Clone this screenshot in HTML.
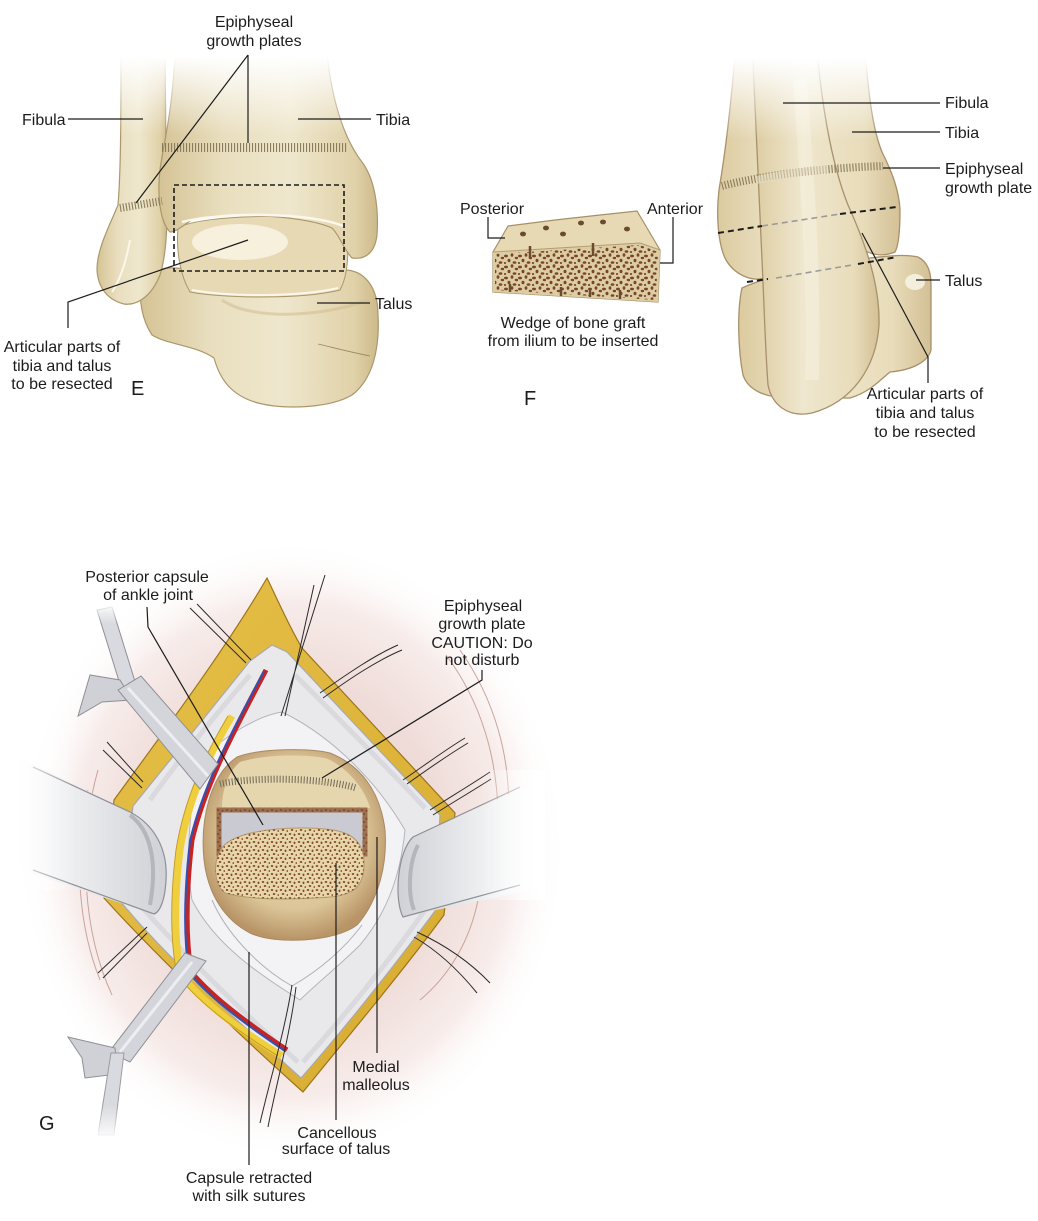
<!DOCTYPE html>
<html><head><meta charset="utf-8"><style>
html,body{margin:0;padding:0;background:#fff;}
svg{display:block;}
text{font-family:"Liberation Sans",Arial,sans-serif;font-size:16px;fill:#1c1c1c;}
.c{text-anchor:middle;}
.big{font-size:20px;}
.ld{stroke:#1c1c1c;stroke-width:1.2;fill:none;}
.su{stroke:#2a2a2a;stroke-width:1;fill:none;}
.arc{stroke:#c9a39a;stroke-width:1;fill:none;}
</style></head><body>
<svg width="1038" height="1221" viewBox="0 0 1038 1221" xmlns="http://www.w3.org/2000/svg">
<defs>
<linearGradient id="boneE" x1="0" x2="1" y1="0" y2="0">
<stop offset="0" stop-color="#d5c395"/><stop offset="0.3" stop-color="#e9dfbf"/><stop offset="0.6" stop-color="#efe7cd"/><stop offset="0.9" stop-color="#e0d1a8"/><stop offset="1" stop-color="#cdb98a"/>
</linearGradient>
<linearGradient id="boneF" x1="0" x2="1" y1="0" y2="0">
<stop offset="0" stop-color="#dccb9f"/><stop offset="0.4" stop-color="#efe7cf"/><stop offset="0.8" stop-color="#e8dcba"/><stop offset="1" stop-color="#d3c095"/>
</linearGradient>
<linearGradient id="fadeTop" x1="0" x2="0" y1="0" y2="1">
<stop offset="0" stop-color="#fff" stop-opacity="1"/><stop offset="0.25" stop-color="#fff" stop-opacity="1"/><stop offset="1" stop-color="#fff" stop-opacity="0"/>
</linearGradient>
<linearGradient id="fadeL" x1="0" x2="1" y1="0" y2="0">
<stop offset="0" stop-color="#fff" stop-opacity="1"/><stop offset="1" stop-color="#fff" stop-opacity="0"/>
</linearGradient>
<linearGradient id="fadeR" x1="0" x2="1" y1="0" y2="0">
<stop offset="0" stop-color="#fff" stop-opacity="0"/><stop offset="1" stop-color="#fff" stop-opacity="1"/>
</linearGradient>
<linearGradient id="fadeB" x1="0" x2="0" y1="0" y2="1">
<stop offset="0" stop-color="#fff" stop-opacity="0"/><stop offset="1" stop-color="#fff" stop-opacity="1"/>
</linearGradient>
<radialGradient id="halo" cx="0.5" cy="0.5" r="0.5">
<stop offset="0" stop-color="#e8ccc7"/><stop offset="0.55" stop-color="#efdcd8"/><stop offset="0.8" stop-color="#f7ecea"/><stop offset="1" stop-color="#ffffff" stop-opacity="0"/>
</radialGradient>
<linearGradient id="fat" x1="0" x2="1" y1="0" y2="1">
<stop offset="0" stop-color="#e6c04a"/><stop offset="0.5" stop-color="#dfb63c"/><stop offset="1" stop-color="#d6aa32"/>
</linearGradient>
<linearGradient id="plateL" x1="0" x2="1" y1="0" y2="0">
<stop offset="0" stop-color="#ffffff"/><stop offset="0.35" stop-color="#eeeff1"/><stop offset="1" stop-color="#cfd1d6"/>
</linearGradient>
<linearGradient id="plateR" x1="0" x2="1" y1="0" y2="0">
<stop offset="0" stop-color="#cfd1d6"/><stop offset="0.6" stop-color="#eeeff1"/><stop offset="1" stop-color="#ffffff"/>
</linearGradient>
<radialGradient id="beige" cx="0.5" cy="0.45" r="0.55">
<stop offset="0" stop-color="#e9dab4"/><stop offset="0.7" stop-color="#dcc699"/><stop offset="1" stop-color="#b89466"/>
</radialGradient>
<pattern id="canc" width="14" height="11" patternUnits="userSpaceOnUse">
<ellipse cx="2" cy="3" rx="2" ry="1.4" fill="#7a4528"/>
<ellipse cx="8" cy="2" rx="1.4" ry="1.8" fill="#7a4528"/>
<ellipse cx="12.5" cy="5" rx="1.8" ry="1.2" fill="#7a4528"/>
<ellipse cx="5" cy="7.5" rx="1.5" ry="1.7" fill="#7a4528"/>
<ellipse cx="10.5" cy="9.5" rx="1.9" ry="1.3" fill="#7a4528"/>
<ellipse cx="1" cy="10" rx="1.2" ry="1" fill="#7a4528"/>
</pattern>
<pattern id="canc2" width="9" height="8" patternUnits="userSpaceOnUse">
<ellipse cx="2" cy="2" rx="1.3" ry="1" fill="#834c2c"/>
<ellipse cx="6.5" cy="2.8" rx="1" ry="1.3" fill="#834c2c"/>
<ellipse cx="4" cy="6" rx="1.3" ry="1" fill="#834c2c"/>
<ellipse cx="8.3" cy="7" rx="0.9" ry="0.9" fill="#834c2c"/>
</pattern>
</defs>

<!-- ================= PANEL E ================= -->
<path d="M142,282 C148,268 172,264 195,272 C250,285 310,280 340,270 C365,268 378,288 378,315 C380,350 372,380 352,395 C330,408 285,410 258,403 C232,396 220,380 214,358 C195,345 168,345 152,335 C142,320 138,298 142,282 Z" fill="url(#boneE)" stroke="#ab976b" stroke-width="1.2"/>
<path d="M222,300 C250,320 320,318 368,300" fill="none" stroke="#d2c094" stroke-width="3" opacity="0.6"/>
<path d="M318,344 C335,348 350,352 370,356" fill="none" stroke="#9c8760" stroke-width="0.8"/>
<path d="M178,228 C200,214 320,212 345,226 C350,250 348,275 340,290 C300,300 220,298 190,292 C180,275 176,250 178,228 Z" fill="#e6d9b4" stroke="#ab976b" stroke-width="1"/>
<ellipse cx="240" cy="242" rx="48" ry="18" fill="#f8f3e4" opacity="0.85"/>
<path d="M192,290 C230,297 300,297 338,288" fill="none" stroke="#fbf7ec" stroke-width="2"/>
<path d="M121,40 L165,40 L166,160 C168,210 168,250 160,275 C152,295 138,306 124,304 C108,300 98,288 97,270 C97,248 110,225 118,205 C121,170 121,110 121,40 Z" fill="url(#boneE)" stroke="#ab976b" stroke-width="1.2"/>
<path d="M130,240 C126,262 120,280 112,292" fill="none" stroke="#fbf7ec" stroke-width="2"/>
<path d="M176,40 L326,40 C330,100 345,140 362,162 C374,178 379,205 377,235 C375,252 366,260 352,258 C344,250 340,236 332,228 C300,214 220,212 192,220 C182,226 176,232 170,232 C160,222 157,195 160,170 C163,145 172,120 176,40 Z" fill="url(#boneE)" stroke="#ab976b" stroke-width="1.2"/>
<path d="M182,222 C220,212 310,212 343,226" fill="none" stroke="#fbf7ec" stroke-width="2.5"/>
<rect x="80" y="30" width="300" height="105" fill="url(#fadeTop)"/>
<line x1="162" y1="147.5" x2="348" y2="147.5" stroke="#8a7c5c" stroke-width="9" stroke-dasharray="1.1 1.9"/>
<line x1="120" y1="208" x2="162" y2="201" stroke="#8a7c5c" stroke-width="8" stroke-dasharray="1.1 1.9"/>
<rect x="174" y="185" width="170" height="86" fill="none" stroke="#1c1c1c" stroke-width="1.6" stroke-dasharray="5 3"/>
<path class="ld" d="M248,55 L248,143 M248,55 L136,203"/>
<path class="ld" d="M68,119 L143,119"/>
<path class="ld" d="M298,119 L371,119"/>
<path class="ld" d="M317,303 L370,303"/>
<path class="ld" d="M248,240 L68,302 L68,328"/>
<text class="c" x="254" y="27">Epiphyseal</text>
<text class="c" x="254" y="46">growth plates</text>
<text x="22" y="125">Fibula</text>
<text x="376" y="125">Tibia</text>
<text x="375" y="309">Talus</text>
<text class="c" x="62" y="352">Articular parts of</text>
<text class="c" x="62" y="371">tibia and talus</text>
<text class="c" x="62" y="389">to be resected</text>
<text class="big" x="131" y="395">E</text>

<!-- ================= PANEL F graft ================= -->
<path d="M493,252 L508,226 L555,220 L600,215 L637,211 L660,250 L658,302 L493,292 Z" fill="#e6d9b3" stroke="#a89066" stroke-width="1.2"/>
<path d="M493,252 L640,243 L660,250 L658,302 L493,292 Z" fill="#dccda4"/>
<path d="M495,254 L640,245 L658,252 L656,300 L495,290 Z" fill="url(#canc)"/>
<path d="M493,252 L640,243 L660,250" fill="none" stroke="#b49d70" stroke-width="1"/>
<g fill="#6b4a30">
<ellipse cx="523" cy="234" rx="3" ry="2.4"/><ellipse cx="546" cy="228" rx="3" ry="2.4"/><ellipse cx="563" cy="234" rx="3" ry="2.4"/>
<ellipse cx="581" cy="223" rx="3" ry="2.4"/><ellipse cx="603" cy="222" rx="3" ry="2.4"/><ellipse cx="627" cy="229" rx="3" ry="2.4"/>
</g>
<path d="M530,246 L530,258 M593,243 L593,256 M510,292 L510,284 M561,296 L561,287 M590,297 L590,288 M620,299 L620,290" stroke="#6b4a30" stroke-width="2.5"/>
<path class="ld" d="M488,217 L488,238 L505,238"/>
<path class="ld" d="M673,217 L673,263 L660,263"/>
<text x="460" y="214">Posterior</text>
<text x="647" y="214">Anterior</text>
<text class="c" x="573" y="328">Wedge of bone graft</text>
<text class="c" x="573" y="346">from ilium to be inserted</text>
<text class="big" x="524" y="405">F</text>

<!-- ================= PANEL F bones ================= -->
<path d="M742,288 C770,275 820,265 870,258 C890,256 905,254 918,257 C928,262 931,272 931,285 L931,350 C928,362 912,370 890,372 C880,380 870,392 850,398 L790,398 C765,398 748,390 743,375 C738,350 737,310 742,288 Z" fill="url(#boneF)" stroke="#a8906a" stroke-width="1.3"/>
<ellipse cx="915" cy="282" rx="10" ry="8" fill="#faf6ea" opacity="0.8"/>
<path d="M736,40 L864,40 C869,100 873,130 882,152 C892,172 899,190 900,210 C900,230 899,245 895,252 C880,258 868,254 858,246 L850,240 L770,275 C755,285 735,275 726,260 C718,245 716,215 719,190 C724,160 731,110 736,40 Z" fill="url(#boneF)" stroke="#a8906a" stroke-width="1.3"/>
<path d="M752,40 L816,40 C822,110 832,165 848,205 C866,245 880,285 879,325 C876,368 852,402 812,413 C788,418 772,405 768,385 C765,345 764,300 762,260 C759,190 755,120 752,40 Z" fill="url(#boneF)" stroke="#a8906a" stroke-width="1.3"/>
<path d="M800,80 C805,160 815,260 812,380" fill="none" stroke="#f6f0de" stroke-width="14" opacity="0.55"/>
<rect x="700" y="30" width="240" height="110" fill="url(#fadeTop)"/>
<path d="M722,186 C760,176 820,168 883,166" fill="none" stroke="#8a7c5c" stroke-width="8" stroke-dasharray="1.1 1.9"/>
<path d="M757,180 C780,175 805,171 828,169" fill="none" stroke="#e8dfc6" stroke-width="8" opacity="0.6"/>
<path d="M718,233 L762,226" stroke="#1c1c1c" stroke-width="2" stroke-dasharray="6 4"/>
<path d="M762,226 L840,214" stroke="#9a9a9a" stroke-width="1.6" stroke-dasharray="6 4"/>
<path d="M840,214 L897,207" stroke="#1c1c1c" stroke-width="2" stroke-dasharray="6 4"/>
<path d="M747,282 L768,279" stroke="#1c1c1c" stroke-width="2" stroke-dasharray="6 4"/>
<path d="M776,278 L852,265" stroke="#9a9a9a" stroke-width="1.6" stroke-dasharray="6 4"/>
<path d="M858,264 L897,257" stroke="#1c1c1c" stroke-width="2" stroke-dasharray="6 4"/>
<path class="ld" d="M783,103 L940,103"/>
<path class="ld" d="M852,132 L940,132"/>
<path class="ld" d="M883,168 L940,168"/>
<path class="ld" d="M916,280 L940,280"/>
<path class="ld" d="M862,233 L928,357 L928,383"/>
<text x="945" y="108">Fibula</text>
<text x="945" y="138">Tibia</text>
<text x="945" y="174">Epiphyseal</text>
<text x="945" y="193">growth plate</text>
<text x="945" y="286">Talus</text>
<text class="c" x="925" y="399">Articular parts of</text>
<text class="c" x="925" y="418">tibia and talus</text>
<text class="c" x="925" y="437">to be resected</text>

<!-- ================= PANEL G ================= -->
<ellipse cx="292" cy="850" rx="275" ry="310" fill="url(#halo)"/>
<path class="arc" d="M98,770 C78,840 82,930 112,995"/>
<path class="arc" d="M88,790 C72,860 80,930 100,980"/>
<path class="arc" d="M446,655 C480,700 500,760 498,830"/>
<path class="arc" d="M460,650 C495,700 512,760 508,820"/>
<path class="arc" d="M420,1000 C450,975 470,940 478,900"/>
<!-- yellow fat diamond -->
<path d="M267,578 C280,605 290,628 302,648 L455,813 L444,915 C400,975 345,1040 303,1092 C245,1040 160,960 104,898 L114,800 C165,730 225,650 267,578 Z" fill="url(#fat)" stroke="#9c7418" stroke-width="1.2"/>
<!-- white capsule band -->
<path d="M272,645 L287,652 L440,815 L435,911 C395,965 345,1028 301,1078 C250,1032 170,962 121,902 L133,806 C170,760 215,705 250,661 Z" fill="#e9e9ec" stroke="#a8a8b2" stroke-width="1.2"/>
<!-- inner capsule -->
<path d="M282,712 C320,730 370,770 405,830 C400,880 385,915 360,945 C340,965 315,985 300,1000 C260,975 215,945 192,900 C185,860 190,800 200,760 C225,735 260,715 282,712 Z" fill="#f3f3f5" stroke="#b4b4bc" stroke-width="1"/>
<path d="M150,800 C175,765 215,715 250,675" fill="none" stroke="#d2d2d8" stroke-width="5" opacity="0.7"/>
<path d="M295,675 C335,715 385,765 425,808" fill="none" stroke="#d2d2d8" stroke-width="5" opacity="0.7"/>
<path d="M140,905 C180,950 240,1010 298,1062" fill="none" stroke="#d2d2d8" stroke-width="5" opacity="0.7"/>
<path d="M425,910 C390,960 345,1015 303,1062" fill="none" stroke="#d2d2d8" stroke-width="5" opacity="0.7"/>
<!-- beige opening -->
<path d="M237,757 C260,748 310,748 330,753 C360,765 380,790 385,830 C388,870 375,905 357,925 C335,942 275,945 250,933 C225,920 208,895 204,860 C200,820 210,775 237,757 Z" fill="url(#beige)" stroke="#a88a60" stroke-width="1"/>
<path d="M240,762 C265,754 310,754 328,759 C350,770 365,790 370,808 L222,808 C222,790 228,772 240,762 Z" fill="#e6d6ae"/>
<path d="M220,784 C250,777 320,777 356,788" fill="none" stroke="#6e6858" stroke-width="7" stroke-dasharray="1 2"/>
<rect x="219" y="810" width="146" height="44" fill="#c9cad2" stroke="#9c7050" stroke-width="5"/>
<rect x="219" y="810" width="146" height="44" fill="none" stroke="url(#canc2)" stroke-width="5"/>
<path d="M220,852 C225,836 260,828 303,828 C340,828 362,833 364,860 C365,885 355,895 330,897 C290,900 250,900 225,893 C214,885 213,862 220,852 Z" fill="#e7d6aa" stroke="#b59868" stroke-width="1"/>
<path d="M220,852 C225,836 260,828 303,828 C340,828 362,833 364,860 C365,885 355,895 330,897 C290,900 250,900 225,893 C214,885 213,862 220,852 Z" fill="url(#canc2)"/>
<path d="M212,900 C225,930 255,965 292,986 C320,970 345,948 362,925" fill="none" stroke="#b0b0b8" stroke-width="1"/>
<!-- vessels -->
<path d="M232,716 C208,756 188,800 180,850 C174,900 174,940 181,975 C205,1005 240,1030 282,1056" fill="none" stroke="#efcf3e" stroke-width="7"/>
<path d="M232,716 C208,756 188,800 180,850 C174,900 174,940 181,975 C205,1005 240,1030 282,1056" fill="none" stroke="#c49a20" stroke-width="1" transform="translate(-4,0)"/>
<path d="M266,670 C240,720 206,780 192,840 C185,900 186,940 191,972 C215,1000 250,1025 287,1050" fill="none" stroke="#c42424" stroke-width="5"/>
<path d="M266,670 C240,720 206,780 192,840 C185,900 186,940 191,972 C215,1000 250,1025 287,1050" fill="none" stroke="#3450b0" stroke-width="2" transform="translate(-2,1)"/>
<!-- sutures -->
<path class="su" d="M190,608 L246,663 M197,604 L251,660"/>
<path class="su" d="M325,575 L281,716 M314,585 L285,716"/>
<path class="su" d="M320,693 C350,672 375,655 398,645 M323,698 C352,677 378,660 402,650"/>
<path class="su" d="M403,780 C425,765 445,750 465,738 M407,784 C428,769 448,755 468,743"/>
<path class="su" d="M430,810 C452,796 472,784 490,772 M433,815 C455,801 474,790 491,779"/>
<path class="su" d="M107,742 L143,782 M103,750 L142,788"/>
<path class="su" d="M147,927 L98,973 M147,933 L103,978"/>
<path class="su" d="M292,985 C285,1030 270,1080 260,1123 M296,987 C290,1035 276,1085 268,1127"/>
<path class="su" d="M417,932 C445,945 470,962 490,983 M414,937 C440,952 460,972 477,993"/>
<!-- left plate -->
<path d="M15,755 L130,812 C155,825 168,850 166,880 C165,900 160,912 154,914 L15,868 Z" fill="url(#plateL)"/>
<path d="M33,767 L130,812 C155,825 168,850 166,880 C165,900 160,912 154,914 L33,870" fill="none" stroke="#8e9096" stroke-width="1.2"/>
<path d="M130,815 C150,830 158,860 150,905" fill="none" stroke="#b4b6bc" stroke-width="4"/>
<rect x="0" y="740" width="75" height="150" fill="url(#fadeL)"/>
<!-- right plate -->
<path d="M413,837 L540,780 L540,888 L403,917 C394,900 397,852 413,837 Z" fill="url(#plateR)"/>
<path d="M520,787 L413,837 C397,852 394,900 403,917 L520,885" fill="none" stroke="#8e9096" stroke-width="1.2"/>
<path d="M418,845 C408,865 408,895 414,910" fill="none" stroke="#b4b6bc" stroke-width="4"/>
<rect x="480" y="770" width="65" height="130" fill="url(#fadeR)"/>
<!-- upper-left retractor -->
<path d="M97,610 L112,607 L137,688 L123,694 Z" fill="#d9dadf" stroke="#8e9096" stroke-width="1"/>
<rect x="85" y="596" width="40" height="28" fill="url(#fadeTop)"/>
<path d="M78,716 L90,675 L120,680 L132,700 L102,702 Z" fill="#cfd1d7" stroke="#8e9096" stroke-width="1"/>
<path d="M118,690 L141,676 L218,764 L200,789 Z" fill="#d3d5db" stroke="#8e9096" stroke-width="1"/>
<path d="M128,688 L208,776" stroke="#eceef2" stroke-width="3"/>
<!-- lower-left retractor -->
<path d="M185,953 L206,961 L130,1062 L109,1052 Z" fill="#d3d5db" stroke="#8e9096" stroke-width="1"/>
<path d="M192,962 L120,1052" stroke="#eceef2" stroke-width="3"/>
<path d="M68,1037 L115,1048 L118,1074 L85,1078 L82,1058 Z" fill="#cfd1d7" stroke="#8e9096" stroke-width="1"/>
<path d="M111,1053 L124,1053 L114,1135 L98,1135 Z" fill="#d9dadf" stroke="#9a9ca2" stroke-width="1"/>
<rect x="90" y="1105" width="40" height="35" fill="url(#fadeB)"/>
<!-- leaders G -->
<path class="ld" d="M147,607 L148,627 L263,825"/>
<path class="ld" d="M482,670 L482,680 L322,778"/>
<path class="ld" d="M377,837 L377,1053"/>
<path class="ld" d="M336,863 L336,1120"/>
<path class="ld" d="M249,952 L249,1165"/>
<text class="c" x="147" y="582">Posterior capsule</text>
<text class="c" x="148" y="600">of ankle joint</text>
<text class="c" x="483" y="611">Epiphyseal</text>
<text class="c" x="482" y="629">growth plate</text>
<text class="c" x="482" y="648">CAUTION: Do</text>
<text class="c" x="482" y="665">not disturb</text>
<text class="c" x="376" y="1072">Medial</text>
<text class="c" x="376" y="1090">malleolus</text>
<text class="c" x="337" y="1138">Cancellous</text>
<text class="c" x="336" y="1154">surface of talus</text>
<text class="c" x="249" y="1183">Capsule retracted</text>
<text class="c" x="249" y="1201">with silk sutures</text>
<text class="big" x="39" y="1130">G</text>
</svg>
</body></html>
